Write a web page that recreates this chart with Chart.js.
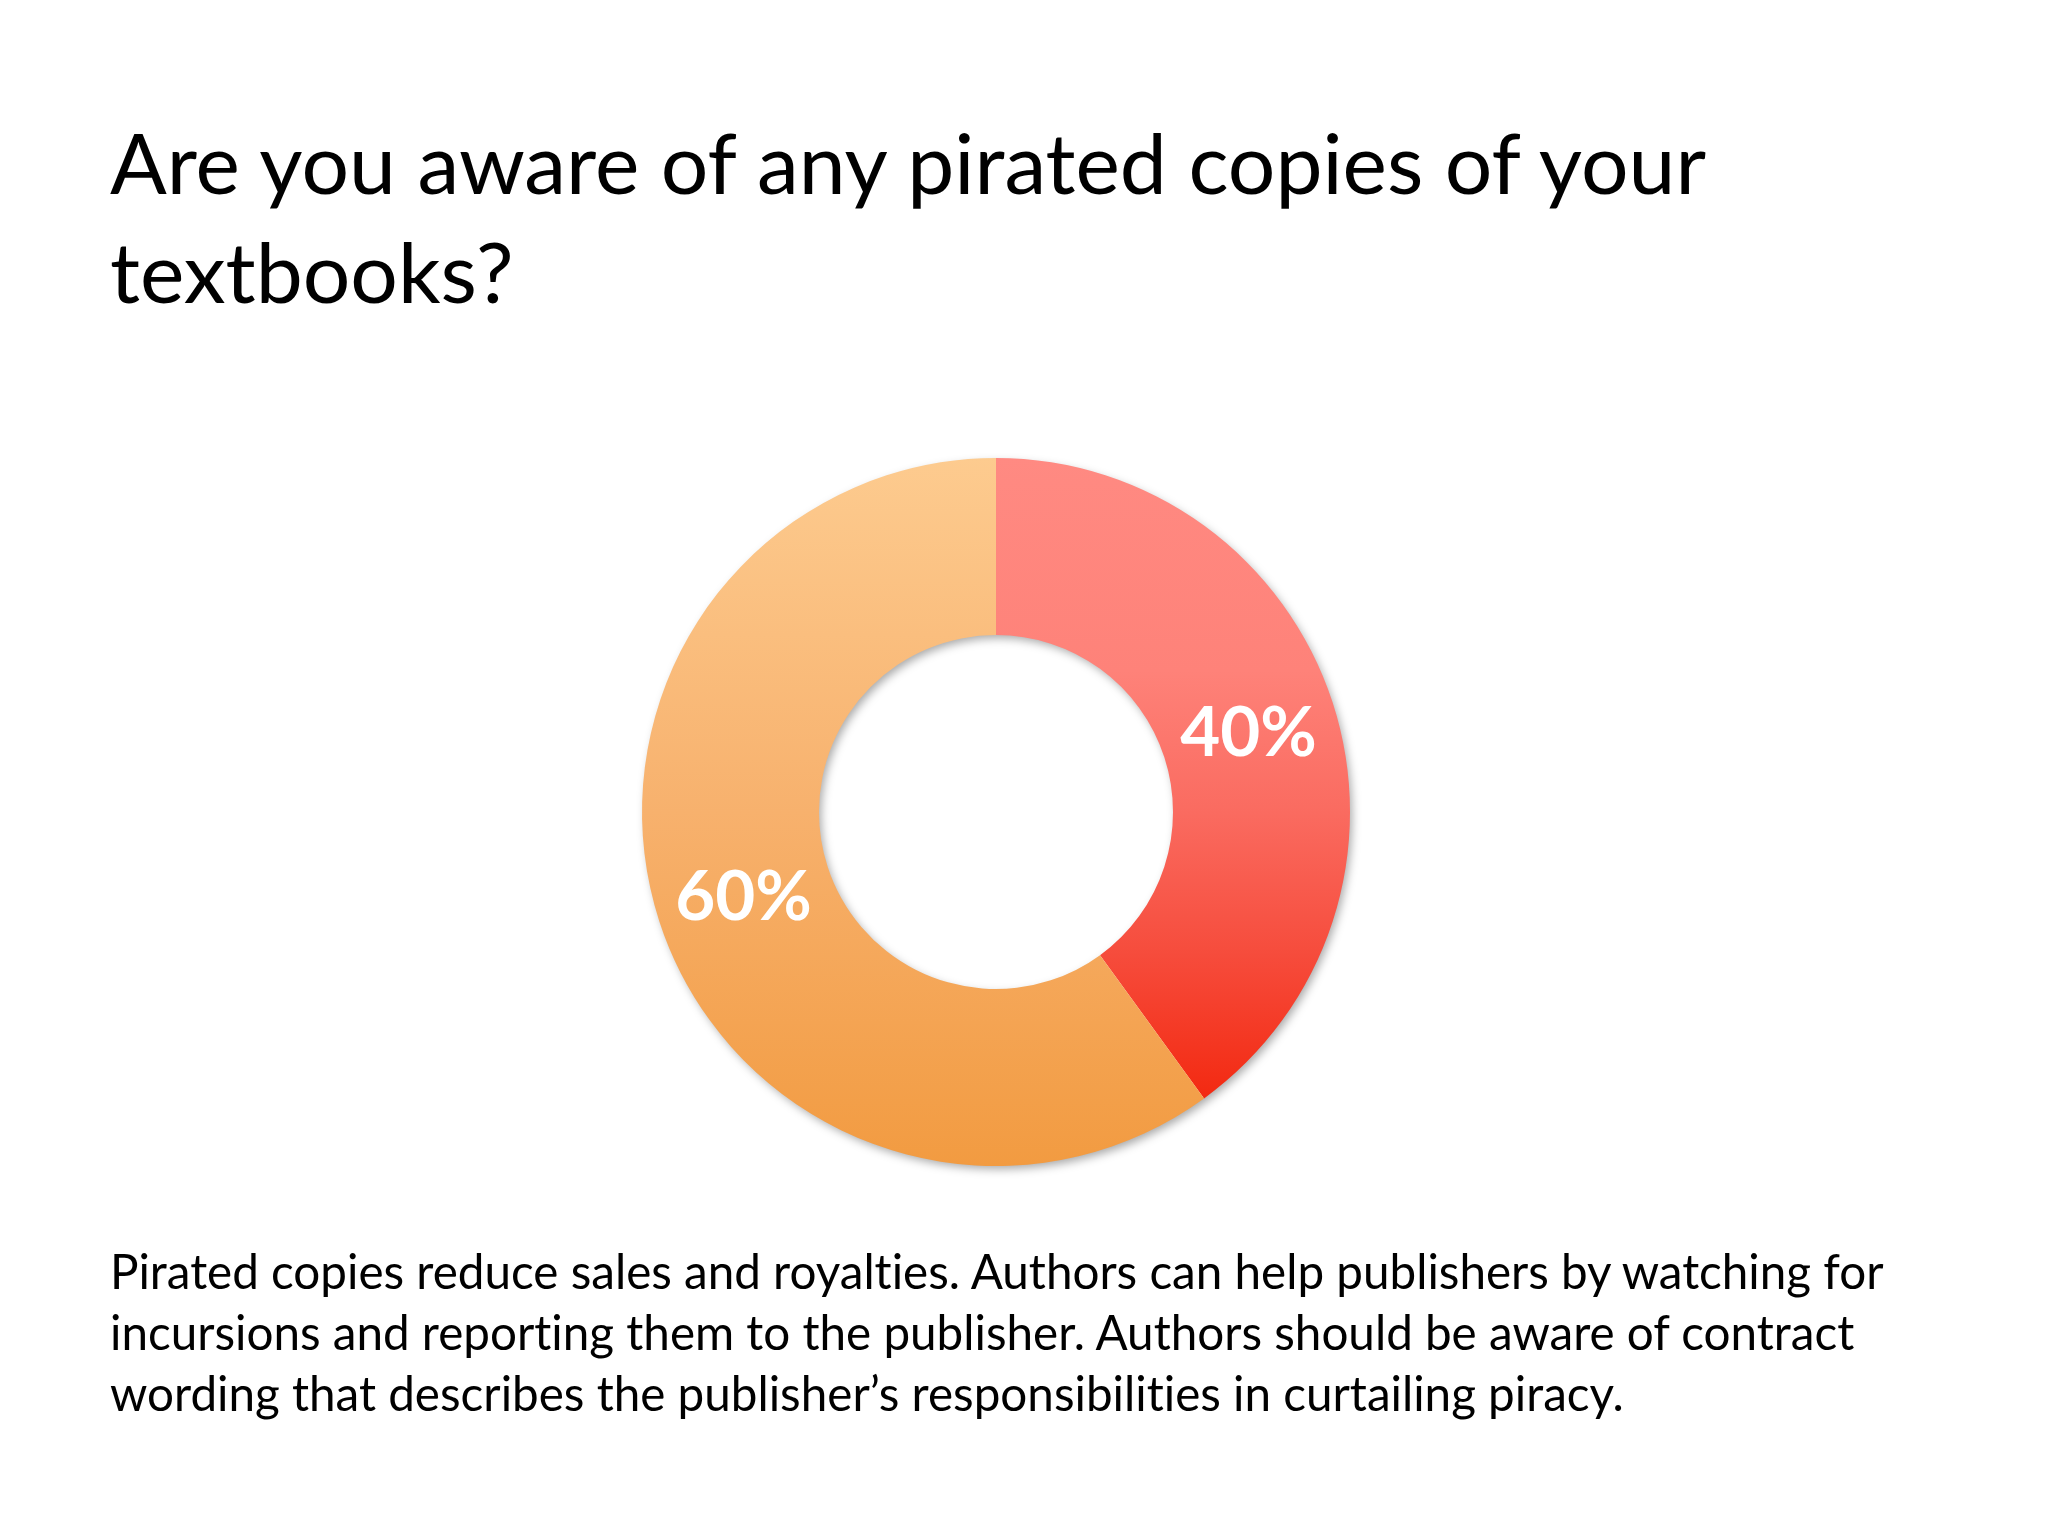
<!DOCTYPE html>
<html>
<head>
<meta charset="utf-8">
<script src="https://cdn.jsdelivr.net/npm/chart.js@4/dist/chart.umd.min.js"></script>
<style>
  html, body { margin: 0; padding: 0; background: #ffffff; }
  #page { position: relative; width: 2048px; height: 1536px; overflow: hidden; background: #ffffff; }
  #chartWrap { position: absolute; left: 0; top: 0; width: 2048px; height: 1536px; }
  .txt { position: absolute; left: 110px; font-family: Lato, "Open Sans", sans-serif; color: #000; white-space: pre; font-variant-ligatures: none; font-feature-settings: "liga" 0, "dlig" 0; }
  #title { top: 107px; font-size: 84px; line-height: 109px; }
  #body { top: 1240px; font-size: 47.6px; line-height: 61px; }
</style>
</head>
<body>
<div id="page">
  <div id="chartWrap"><canvas id="c" width="2048" height="1536"></canvas></div>
  <div id="title" class="txt"></div>
  <div id="body" class="txt"></div>
</div>
<script>
const titleLines = [
  "Are you aware of any pirated copies of your",
  "textbooks?"
];
const bodyLines = [
  "Pirated copies reduce sales and royalties. Authors can help publishers by watching for",
  "incursions and reporting them to the publisher. Authors should be aware of contract",
  "wording that describes the publisher\u2019s responsibilities in curtailing piracy."
];
const categories = ["Yes", "No"];
const values = [40, 60];
const valueLabels = ["40%", "60%"];
const gradientStops = [
  [[0, "#FF8A82"], [0.3, "#FE8279"], [0.5, "#FA6B60"], [0.7, "#F64C3C"], [0.9, "#F32A12"], [1, "#F22000"]],
  [[0, "#FDCB8F"], [0.5, "#F7B16D"], [1, "#F29B41"]]
];

document.getElementById("title").textContent = titleLines.join("\n");
document.getElementById("body").textContent = bodyLines.join("\n");

const ringShadow = {
  id: "ringShadow",
  beforeDatasetsDraw(chart) {
    const meta = chart.getDatasetMeta(0);
    if (!meta.data.length) return;
    const a = meta.data[0];
    const ctx = chart.ctx;
    ctx.save();
    ctx.shadowColor = "rgba(0,0,0,0.35)";
    ctx.shadowBlur = 10;
    ctx.shadowOffsetX = 3;
    ctx.shadowOffsetY = 4;
    ctx.fillStyle = "#ffffff";
    ctx.beginPath();
    ctx.arc(a.x, a.y, a.outerRadius - 1, 0, Math.PI * 2);
    ctx.arc(a.x, a.y, a.innerRadius + 1, 0, Math.PI * 2, true);
    ctx.fill("evenodd");
    ctx.restore();
  }
};

const sliceLabels = {
  id: "sliceLabels",
  afterDatasetsDraw(chart) {
    const meta = chart.getDatasetMeta(0);
    const ctx = chart.ctx;
    ctx.save();
    ctx.fillStyle = "#ffffff";
    ctx.font = "bold 69px Lato, 'Open Sans', sans-serif";
    ctx.textAlign = "center";
    ctx.textBaseline = "alphabetic";
    meta.data.forEach((el, i) => {
      const p = el.tooltipPosition();
      ctx.fillText(valueLabels[i], p.x, p.y + 26);
    });
    ctx.restore();
  }
};

new Chart(document.getElementById("c"), {
  type: "doughnut",
  data: {
    labels: categories,
    datasets: [{
      data: values,
      backgroundColor: (context) => {
        const chart = context.chart;
        const area = chart.chartArea;
        const stops = gradientStops[context.dataIndex % gradientStops.length];
        if (!area) return stops[0][1];
        const g = chart.ctx.createLinearGradient(0, area.top, 0, area.bottom);
        stops.forEach(s => g.addColorStop(s[0], s[1]));
        return g;
      },
      borderWidth: 0,
      hoverOffset: 0,
      offset: 0
    }]
  },
  options: {
    responsive: false,
    animation: false,
    cutout: "50%",
    rotation: 0,
    layout: { padding: { left: 642, right: 698, top: 458, bottom: 370 } },
    plugins: {
      legend: { display: false },
      tooltip: { enabled: false },
      title: { display: false }
    }
  },
  plugins: [ringShadow, sliceLabels]
});
</script>
</body>
</html>
